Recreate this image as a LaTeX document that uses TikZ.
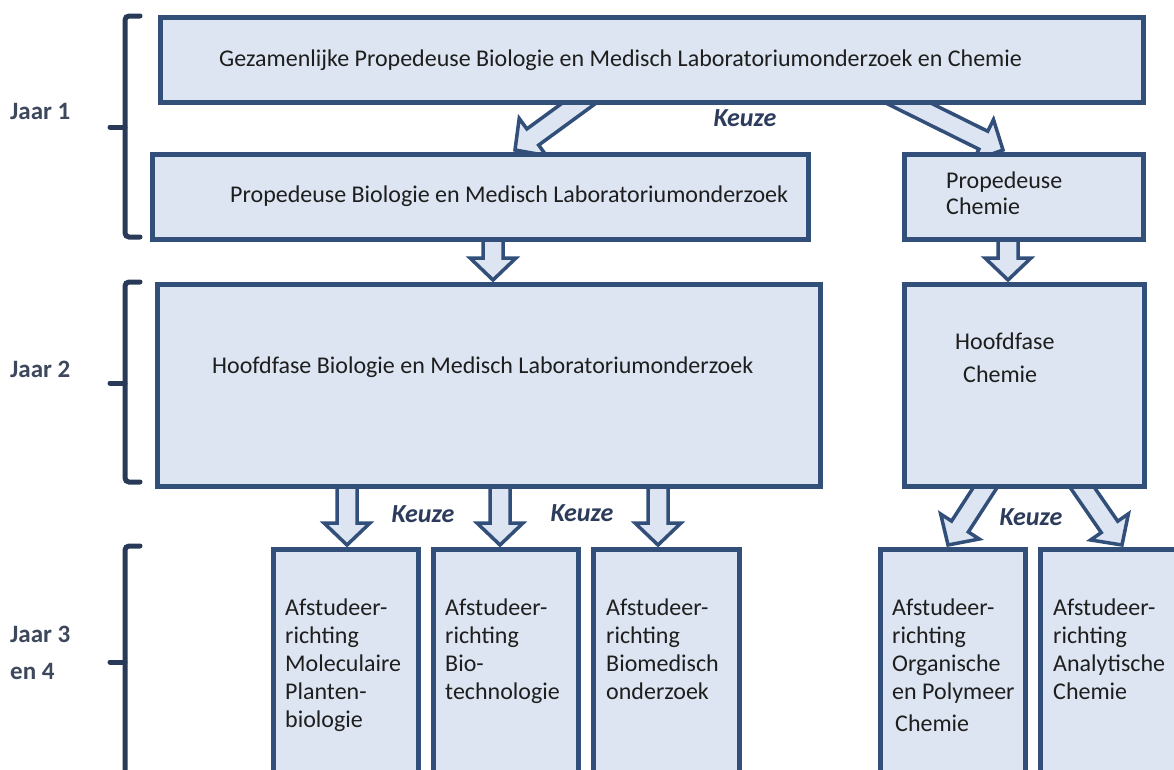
\documentclass[tikz,border=0pt]{standalone}
\usepackage{fontspec}
\setmainfont{Carlito}
\usetikzlibrary{calc}
\pgfdeclarelayer{back}
\pgfdeclarelayer{bg}
\pgfsetlayers{back,bg,main}
\definecolor{bordc}{RGB}{50,79,122}
\definecolor{fillc}{RGB}{220,229,241}
\definecolor{brackc}{RGB}{40,58,88}
\definecolor{jaarc}{RGB}{62,72,92}
\definecolor{keuzec}{RGB}{45,60,92}
\definecolor{textc}{RGB}{30,30,30}
\newcommand\shw{10pt}
\newcommand\hdw{23pt}
\newcommand\hdl{22pt}
\newcommand\blockarr[2]{%
  \path (#1); \pgfgetlastxy{\bax}{\bay}%
  \path (#2); \pgfgetlastxy{\bbx}{\bby}%
  \pgfmathsetmacro\bang{atan2((\bby)-(\bay),(\bbx)-(\bax))}%
  \pgfmathsetmacro\blen{veclen((\bbx)-(\bax),(\bby)-(\bay))}%
  \draw[blockarrow, shift={(\bax,\bay)}, rotate=\bang]
    (0pt,-\shw) -- (\blen pt-\hdl,-\shw) -- (\blen pt-\hdl,-\hdw) -- (\blen pt,0pt)
    -- (\blen pt-\hdl,\hdw) -- (\blen pt-\hdl,\shw) -- (0pt,\shw) -- cycle;
}
\begin{document}
\begin{tikzpicture}[x=1pt,y=-1pt,
  box/.style={draw=bordc, fill=fillc, line width=5pt, inner sep=0pt, anchor=north west},
  txt/.style={font=\fontsize{24}{28}\selectfont, text=textc, inner sep=0pt, align=left},
  jaar/.style={font=\fontsize{25}{32}\selectfont\bfseries, text=jaarc, inner sep=0pt, align=left, anchor=mid west},
  keuze/.style={font=\fontsize{26}{30}\selectfont\bfseries\itshape, text=keuzec, inner sep=0pt},
  blockarrow/.style={draw=bordc, fill=fillc, line width=3.5pt, line join=miter},
  brack/.style={draw=brackc, line width=5pt, rounded corners=4pt, line cap=round}]
\useasboundingbox (0,0) rectangle (1174,769);
\begin{pgfonlayer}{back}
\fill[white] (0,0) rectangle (1174,769);
\end{pgfonlayer}
\clip (0,0) rectangle (1174,769);

% boxes
\node[box, minimum width=983pt, minimum height=85pt] (b1) at (158,15) {};
\node[box, minimum width=656pt, minimum height=85pt] (b2) at (150,152) {};
\node[box, minimum width=239pt, minimum height=85pt] (b3) at (902,152) {};
\node[box, minimum width=663pt, minimum height=202pt] (b4) at (155,282) {};
\node[box, minimum width=240pt, minimum height=202pt] (b5) at (902,282) {};
\node[box, minimum width=145pt, minimum height=260pt] (c1) at (271,547) {};
\node[box, minimum width=145pt, minimum height=260pt] (c2) at (431,547) {};
\node[box, minimum width=146pt, minimum height=260pt] (c3) at (591,547) {};
\node[box, minimum width=145pt, minimum height=260pt] (c4) at (878,547) {};
\node[box, minimum width=170pt, minimum height=260pt] (c5) at (1038,547) {};

% box texts
\node[txt, anchor=mid west] (t1) at (219,64) {Gezamenlijke Propedeuse Biologie en Medisch Laboratoriumonderzoek en Chemie};
\node[txt, anchor=mid west] (t2) at (230,200) {Propedeuse Biologie en Medisch Laboratoriumonderzoek};
\node[txt, anchor=north west, font=\fontsize{24}{26}\selectfont] (t3) at (946,172) {Propedeuse\\Chemie};
\node[txt, anchor=north west, font=\fontsize{24}{33}\selectfont] (t5) at (955,333) {Hoofdfase\\\hspace*{8pt}Chemie};
\node[txt, anchor=mid west] (t4) at (212,371) {Hoofdfase Biologie en Medisch Laboratoriumonderzoek};
\node[txt, anchor=north west] (u1) at (285,599) {Afstudeer-\\richting\\Moleculaire\\Planten-\\biologie};
\node[txt, anchor=north west] (u2) at (445,599) {Afstudeer-\\richting\\Bio-\\technologie};
\node[txt, anchor=north west] (u3) at (606,599) {Afstudeer-\\richting\\Biomedisch\\onderzoek};
\node[txt, anchor=north west] (u4) at (892,599) {Afstudeer-\\richting\\Organische\\en Polymeer\\[4pt]\hspace*{3pt}Chemie};
\node[txt, anchor=north west] (u5) at (1053,599) {Afstudeer-\\richting\\Analytische\\Chemie};

% year labels
\node[jaar] (j1) at (10,117) {Jaar 1};
\node[jaar] (j2) at (10,375) {Jaar 2};
\node[jaar] (j3) at (10,640) {Jaar 3};
\node[jaar] (j4) at (10,677) {en 4};

% brackets
\draw[brack] (140,16) -- (125,16) -- (125,237) -- (140,237);
\draw[brack] (125,127) -- (110,127);
\draw[brack] (140,282) -- (125,282) -- (125,482) -- (140,482);
\draw[brack] (125,383) -- (110,383);
\draw[brack] (140,546) -- (125,546) -- (125,800);
\draw[brack] (125,662) -- (110,662);

% keuze labels
\node[keuze] (k1) at (745,118) {Keuze};
\node[keuze] (k2) at (423,514) {Keuze};
\node[keuze] (k3) at (582,513) {Keuze};
\node[keuze] (k4) at (1031,517) {Keuze};

% arrow end points
\coordinate (d1s) at ($(b1.south west)+(435,-12)$);
\coordinate (d2s) at ($(b1.south west)+(730,-12)$);
\coordinate (d1e) at ($(b2.north west)+(365,-2)$);
\coordinate (d2e) at ($(b3.north west)+(101,-2)$);
\coordinate (v1s) at ($(b2.south west)+(343,-12)$);
\coordinate (v1e) at ($(b4.north west)+(338,-2)$);
\coordinate (v2s) at ($(b3.south west)+(106,-12)$);
\coordinate (v2e) at ($(b5.north west)+(106,-2)$);
\coordinate (v3s) at ($(b4.south west)+(192,-12)$);
\coordinate (v4s) at ($(b4.south west)+(345,-12)$);
\coordinate (v5s) at ($(b4.south west)+(503,-12)$);
\coordinate (v3e) at ($(c1.north west)+(76,-2)$);
\coordinate (v4e) at ($(c2.north west)+(69,-2)$);
\coordinate (v5e) at ($(c3.north west)+(67,-2)$);
\coordinate (d3s) at ($(b5.south west)+(90,-12)$);
\coordinate (d4s) at ($(b5.south west)+(173,-12)$);
\coordinate (d3e) at ($(c4.north west)+(70,-2)$);
\coordinate (d4e) at ($(c5.north west)+(84,-2)$);

\begin{pgfonlayer}{bg}
\blockarr{d1s}{d1e}
\blockarr{d2s}{d2e}
\blockarr{v1s}{v1e}
\blockarr{v2s}{v2e}
\blockarr{v3s}{v3e}
\blockarr{v4s}{v4e}
\blockarr{v5s}{v5e}
\blockarr{d3s}{d3e}
\blockarr{d4s}{d4e}
\end{pgfonlayer}
\end{tikzpicture}
\end{document}
